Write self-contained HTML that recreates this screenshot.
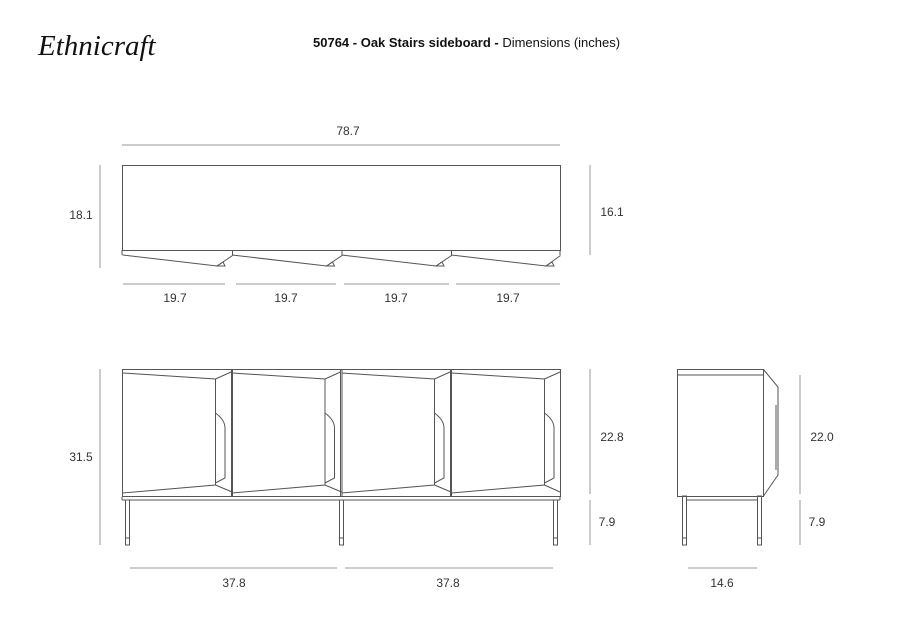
<!DOCTYPE html>
<html><head><meta charset="utf-8"><style>
html,body{margin:0;padding:0;background:#fff;}
svg{display:block;}
text{font-family:"Liberation Sans",sans-serif;fill:#333;}
</style></head><body>
<svg width="900" height="636" viewBox="0 0 900 636" xmlns="http://www.w3.org/2000/svg">
<text x="38" y="55" font-family="Liberation Serif" font-style="italic" font-size="29" style="font-family:'Liberation Serif',serif;fill:#111">Ethnicraft</text>
<text x="313" y="47" font-size="13" style="fill:#111"><tspan font-weight="bold">50764 - Oak Stairs sideboard - </tspan>Dimensions (inches)</text>

<g stroke="#999" stroke-width="1" fill="none">
<line x1="122" y1="145" x2="560" y2="145"/>
<line x1="100" y1="165" x2="100" y2="268"/>
<line x1="590" y1="165" x2="590" y2="255"/>
<line x1="123" y1="284" x2="225" y2="284"/>
<line x1="236" y1="284" x2="336" y2="284"/>
<line x1="344" y1="284" x2="449" y2="284"/>
<line x1="456" y1="284" x2="560" y2="284"/>
<line x1="100" y1="369" x2="100" y2="545"/>
<line x1="590" y1="369" x2="590" y2="494"/>
<line x1="590" y1="500" x2="590" y2="545"/>
<line x1="130" y1="568" x2="337" y2="568"/>
<line x1="345" y1="568" x2="553" y2="568"/>
<line x1="800" y1="375" x2="800" y2="494"/>
<line x1="800" y1="500" x2="800" y2="545"/>
<line x1="688" y1="568" x2="757" y2="568"/>
</g>
<g font-size="12" text-anchor="middle">
<text x="348" y="135">78.7</text>
<text x="81" y="219">18.1</text>
<text x="612" y="216">16.1</text>
<text x="175" y="302">19.7</text>
<text x="286" y="302">19.7</text>
<text x="396" y="302">19.7</text>
<text x="508" y="302">19.7</text>
<text x="81" y="461">31.5</text>
<text x="612" y="441">22.8</text>
<text x="607" y="526">7.9</text>
<text x="234" y="587">37.8</text>
<text x="448" y="587">37.8</text>
<text x="822" y="441">22.0</text>
<text x="817" y="526">7.9</text>
<text x="722" y="587">14.6</text>
</g>

<g stroke="#555" stroke-width="1" fill="none">
<!-- top view -->
<rect x="122.5" y="165.5" width="438" height="85"/>
<line x1="122" y1="250" x2="122" y2="255"/>
<line x1="560" y1="250" x2="560" y2="255"/>
<g id="ts">
<path d="M122.5 255 L217 266 L232.5 255.5 L232.5 250"/>
<path d="M217 266 L223 262 L225 266 Z"/>
</g>
<use href="#ts" transform="translate(109.5,0)"/>
<use href="#ts" transform="translate(219,0)"/>
<path d="M451.5 255 L546 266 L560.5 255.5"/>
<path d="M546 266 L552 262 L554 266 Z"/>

<!-- front view -->
<rect x="122.5" y="369.5" width="438" height="127"/>
<line x1="122" y1="500" x2="560" y2="500"/>
<line x1="122" y1="497" x2="122" y2="500"/><line x1="560" y1="497" x2="560" y2="500"/>
<g id="door">
<line x1="232.5" y1="369" x2="232.5" y2="496"/>
<path d="M122.5 373 L215.5 379 L215.5 485 L122.5 493"/>
<path d="M215.5 379 L231 372"/>
<path d="M215.5 485 L232 492"/>
<path d="M215.5 413 Q225 420 225 428 L225 478 L215.5 483"/>
</g>
<use href="#door" transform="translate(109.5,0)"/>
<use href="#door" transform="translate(219,0)"/>
<path d="M451.5 373 L544.5 379 L544.5 485 L451.5 493"/>
<path d="M544.5 379 L560 372"/>
<path d="M544.5 485 L560 492"/>
<path d="M544.5 413 Q554 420 554 428 L554 478 L544.5 483"/>
<line x1="231.5" y1="369" x2="231.5" y2="496"/>
<line x1="340.5" y1="369" x2="340.5" y2="496"/>
<line x1="450.5" y1="369" x2="450.5" y2="496"/>
<!-- legs -->
<rect x="125.5" y="500" width="4" height="45"/>
<line x1="125.5" y1="538" x2="129.5" y2="538"/>
<rect x="339.5" y="500" width="4" height="45"/>
<line x1="339.5" y1="538" x2="343.5" y2="538"/>
<rect x="553.5" y="500" width="4" height="45"/>
<line x1="553.5" y1="538" x2="557.5" y2="538"/>

<!-- side view -->
<rect x="677.5" y="369.5" width="86" height="127"/>
<line x1="677" y1="375" x2="763" y2="375"/>
<path d="M763.5 369.5 L778 387 L778 475 L763.5 496"/>
<line x1="776" y1="405" x2="776" y2="470"/>
<line x1="686" y1="500" x2="758" y2="500"/>
<rect x="682.5" y="496" width="4" height="49"/>
<line x1="682.5" y1="538" x2="686.5" y2="538"/>
<rect x="757.5" y="496" width="4" height="49"/>
<line x1="757.5" y1="538" x2="761.5" y2="538"/>
</g>
</svg>
</body></html>
